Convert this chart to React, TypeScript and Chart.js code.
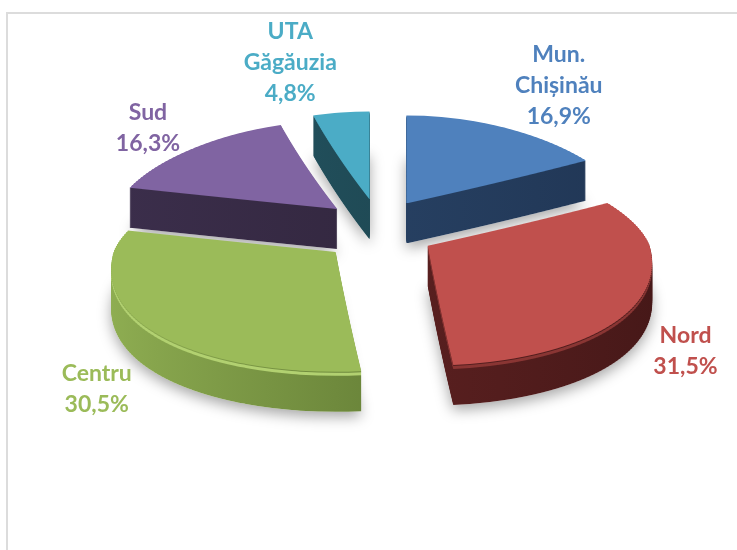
import React, { useEffect, useRef } from 'react';
import { Chart, registerables } from 'chart.js';

Chart.register(...registerables);

// ---- data ----
const categories = ['Mun. Chișinău', 'Nord', 'Centru', 'Sud', 'UTA Găgăuzia'];
const labelLines = [['Mun.', 'Chișinău'], ['Nord'], ['Centru'], ['Sud'], ['UTA', 'Găgăuzia']];
const shares = [16.9, 31.5, 30.5, 16.3, 4.8];
const percentLabels = ['16,9%', '31,5%', '30,5%', '16,3%', '4,8%'];

// ---- style ----
const TOP_COLORS = ['#4f81bd', '#c0504d', '#9bbb59', '#8064a2', '#4bacc6'];
const SIDE_COLORS = [
  ['#2b476b', '#213756'],
  ['#6a2626', '#461818'],
  ['#8fae52', '#4f6628'],
  ['#3b2e4b', '#2e2338'],
  ['#245664', '#1b3f48'],
];
const RIM_COLORS: (string | null)[] = [null, '#8a3634', '#b2d171', null, null];
const LABEL_COLORS = ['#4f81bd', '#c0504d', '#9bbb59', '#8064a2', '#4bacc6'];
const RADIUS = 222;
const TILT_BACK = 0.396;
const TILT_FRONT = 0.54;
const PERSPECTIVE = 0.15;
const STRIP = 2;
const EXPLODE = 56;
const EXPLODE_TILT = 0.571;
const DEPTH = 40;
const LINE_H = 31;
const CAP_HALF = 8;
const FONT = 'bold 23px Lato, "Open Sans", sans-serif';

const midAngle = (arc: any) => (arc.startAngle + arc.endAngle) / 2;

const apexOf = (arc: any) => {
  const h = midAngle(arc);
  return {
    x: arc.x + Math.cos(h) * EXPLODE,
    y: arc.y + Math.sin(h) * EXPLODE * EXPLODE_TILT,
  };
};

const drawStrip = (ctx: CanvasRenderingContext2D, arc: any, px: number, py: number, y0: number, back: boolean, W: number) => {
  const tilt = back ? TILT_BACK : TILT_FRONT;
  const v = (y0 + STRIP / 2 - py) / tilt;
  const sx = 1 + (PERSPECTIVE * v) / arc.outerRadius;
  ctx.save();
  ctx.beginPath();
  ctx.rect(0, y0, W, STRIP);
  ctx.clip();
  ctx.translate(px, py);
  ctx.scale(sx, tilt);
  ctx.translate(-arc.x, -arc.y);
  arc.draw(ctx);
  ctx.restore();
};

const drawSlice = (ctx: CanvasRenderingContext2D, arc: any, d: number, W: number) => {
  const p = apexOf(arc);
  const py = p.y + d;
  const ys = Math.round(py);
  const R = arc.outerRadius;
  const hasFront = arc.endAngle > 0 && arc.startAngle < Math.PI;
  const hasBack = arc.startAngle < 0 || arc.endAngle > Math.PI;
  if (hasBack) {
    for (let y1 = ys; y1 > py - R * TILT_BACK - 2; y1 -= STRIP) {
      drawStrip(ctx, arc, p.x, py, y1 - STRIP, true, W);
    }
  }
  if (hasFront) {
    for (let y0 = ys; y0 < py + R * TILT_FRONT + 2; y0 += STRIP) {
      drawStrip(ctx, arc, p.x, py, y0, false, W);
    }
  }
};

const pie3d = {
  id: 'pie3d',
  beforeDatasetsDraw(chart: any) {
    const ctx: CanvasRenderingContext2D = chart.ctx;
    const W = chart.width;
    const H = chart.height;
    const arcs: any[] = chart.getDatasetMeta(0).data;
    const origBg = arcs.map((a) => a.options.backgroundColor);

    // soft shadow under the pie (silhouette drawn off-screen, then cast)
    const off = document.createElement('canvas');
    off.width = W;
    off.height = H;
    const octx = off.getContext('2d') as CanvasRenderingContext2D;
    arcs.forEach((arc) => {
      arc.options.backgroundColor = '#ffffff';
      drawSlice(octx, arc, DEPTH, W);
    });
    ctx.save();
    ctx.shadowColor = 'rgba(0,0,0,0.35)';
    ctx.shadowBlur = 14;
    ctx.shadowOffsetY = 5;
    ctx.drawImage(off, 0, 0);
    ctx.restore();

    const order = arcs
      .map((_, i) => i)
      .sort((a, b) => Math.sin(midAngle(arcs[a])) - Math.sin(midAngle(arcs[b])));

    for (const i of order) {
      const arc = arcs[i];
      const R = arc.outerRadius;
      const grad = ctx.createLinearGradient(arc.x - R, 0, arc.x + R, 0);
      grad.addColorStop(0, SIDE_COLORS[i][0]);
      grad.addColorStop(1, SIDE_COLORS[i][1]);
      for (let d = DEPTH; d >= 1; d--) {
        const rim = RIM_COLORS[i];
        arc.options.backgroundColor = rim && d >= 2 && d <= 4 ? rim : grad;
        drawSlice(ctx, arc, d, W);
      }
      arc.options.backgroundColor = origBg[i];
      drawSlice(ctx, arc, 0, W);
    }
    return false;
  },
  afterDraw(chart: any) {
    const ctx: CanvasRenderingContext2D = chart.ctx;
    const arcs: any[] = chart.getDatasetMeta(0).data;
    const nudge = chart.options.plugins.pie3d.labelNudge;
    ctx.save();
    ctx.font = FONT;
    ctx.textAlign = 'center';
    ctx.textBaseline = 'alphabetic';
    arcs.forEach((arc, i) => {
      const h = midAngle(arc);
      const p = apexOf(arc);
      const s = Math.sin(h);
      const bx = p.x + Math.cos(h) * arc.outerRadius + nudge[i][0];
      const by = p.y + s * arc.outerRadius * (s < 0 ? TILT_BACK : TILT_FRONT) + nudge[i][1];
      const lines = [...labelLines[i], percentLabels[i]];
      const first = by - ((lines.length - 1) * LINE_H) / 2 + CAP_HALF;
      ctx.fillStyle = LABEL_COLORS[i];
      lines.forEach((t, j) => ctx.fillText(t, bx, first + j * LINE_H));
    });
    ctx.restore();
  },
};

export default function App() {
  const ref = useRef<HTMLCanvasElement>(null);
  useEffect(() => {
    if (!ref.current) return;
    const chart = new Chart(ref.current, {
      type: 'pie',
      data: {
        labels: categories,
        datasets: [
          {
            data: shares,
            backgroundColor: TOP_COLORS,
            borderWidth: 0,
            radius: RADIUS,
          } as any,
        ],
      },
      options: {
        responsive: false,
        animation: false,
        devicePixelRatio: 1,
        layout: { padding: { left: 19, right: 0, top: 0, bottom: 88 } },
        plugins: {
          legend: { display: false },
          tooltip: { enabled: false },
          pie3d: { labelNudge: [[40, -43], [61, 49], [-71, 58], [-28, -21], [-46, -50]] },
        } as any,
        events: [],
      },
      plugins: [pie3d as any],
    });
    return () => chart.destroy();
  }, []);
  return (
    <div style={{ position: 'absolute', left: 0, top: 0, width: 737, height: 550, background: '#fff', overflow: 'hidden' }}>
      <div
        style={{
          position: 'absolute',
          left: 6,
          top: 12,
          width: 760,
          height: 560,
          borderTop: '2px solid #dcdcdc',
          borderLeft: '2px solid #dcdcdc',
        }}
      />
      <canvas ref={ref} width={737} height={550} style={{ position: 'absolute', left: 0, top: 0 }} />
    </div>
  );
}
